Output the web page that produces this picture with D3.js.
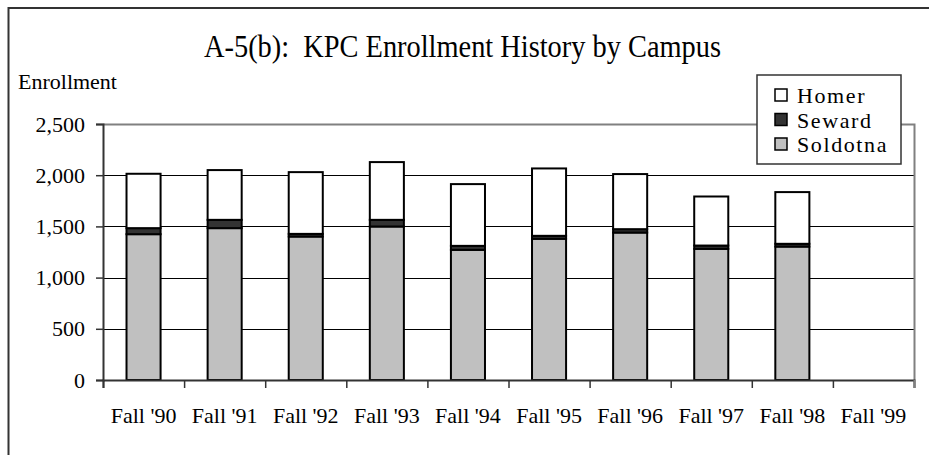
<!DOCTYPE html>
<html>
<head>
<meta charset="utf-8">
<script src="https://cdn.jsdelivr.net/npm/d3@7"></script>
<style>
  body { margin: 0; background: #fff; }
  text { font-family: "Liberation Serif", "DejaVu Serif", serif; fill: #000; }
</style>
</head>
<body>
<div id="chart"></div>
<script>
var canvas_width = 929,
    canvas_height = 455;

// data
var terms = ["Fall '90", "Fall '91", "Fall '92", "Fall '93", "Fall '94", "Fall '95", "Fall '96", "Fall '97", "Fall '98", "Fall '99"];
var soldotna = [1424, 1483, 1401, 1499, 1271, 1379, 1440, 1281, 1303, 0];
var seward = [59, 81, 26, 65, 39, 29, 33, 32, 27, 0];
var homer = [531, 486, 603, 564, 603, 658, 538, 479, 505, 0];
var yTicks = [0, 500, 1000, 1500, 2000, 2500];
var campuses = ["Soldotna", "Seward", "Homer"];
var legendKeys = ["Homer", "Seward", "Soldotna"];

var colors = { Homer: "#ffffff", Seward: "#333333", Soldotna: "#c0c0c0" };

var margin = { top: 124, right: 15, bottom: 75, left: 103 };
var width = canvas_width - margin.left - margin.right;
var height = 380 - margin.top;

var svg = d3.select("#chart")
    .append("svg")
    .attr("width", canvas_width)
    .attr("height", canvas_height);

// outer chart frame (only left and top edges fall inside the picture)
svg.append("rect")
    .attr("x", 8.5)
    .attr("y", 8)
    .attr("width", 960)
    .attr("height", 480)
    .attr("fill", "none")
    .attr("stroke", "#333")
    .attr("stroke-width", 2);

var rows = terms.map(function (t, i) {
    return { term: t, Soldotna: soldotna[i], Seward: seward[i], Homer: homer[i] };
});

var xScale = d3.scaleBand()
    .domain(terms)
    .range([0, width])
    .paddingInner(0.58)
    .paddingOuter(0.29);

var slot = d3.scaleLinear()
    .domain([0, terms.length])
    .range([0, width]);

var yScale = d3.scaleLinear()
    .domain([0, 2500])
    .range([height, 0]);

var g = svg.append("g")
    .attr("transform", "translate(" + margin.left + "," + margin.top + ")");

// gridlines
g.selectAll(".grid")
    .data(yTicks.filter(function (d) { return d > 0 && d < 2500; }))
    .enter()
    .append("line")
    .attr("x1", 0)
    .attr("x2", width)
    .attr("y1", function (d) { return Math.round(yScale(d)) + 0.5; })
    .attr("y2", function (d) { return Math.round(yScale(d)) + 0.5; })
    .attr("stroke", "#000")
    .attr("stroke-width", 1);

// plot area border top / right
g.append("path")
    .attr("d", "M0," + (yScale(2500) + 0.5) + "H" + (width + 0.5) + "V" + height)
    .attr("fill", "none")
    .attr("stroke", "#808080")
    .attr("stroke-width", 2);

// stacked bars
var stack = d3.stack().keys(campuses);
var series = stack(rows);

g.selectAll(".layer")
    .data(series)
    .enter()
    .append("g")
    .attr("fill", function (d) { return colors[d.key]; })
    .selectAll("rect")
    .data(function (d) { return d.filter(function (p) { return p[1] > p[0]; }); })
    .enter()
    .append("rect")
    .attr("x", function (d) { return xScale(d.data.term); })
    .attr("y", function (d) { return yScale(d[1]); })
    .attr("width", xScale.bandwidth())
    .attr("height", function (d) { return yScale(d[0]) - yScale(d[1]); })
    .attr("stroke", "#000")
    .attr("stroke-width", 2);

// Axes
var yAxis = g.append("g")
    .attr("class", "y-axis")
    .call(d3.axisLeft(yScale)
        .tickValues(yTicks)
        .tickFormat(d3.format(","))
        .tickSize(7)
        .tickPadding(11));

yAxis.select(".domain").attr("stroke", "#333").attr("stroke-width", 2);
yAxis.selectAll(".tick line").attr("stroke", "#333").attr("stroke-width", 1.5);
yAxis.selectAll("text").style("font-size", "22px");

var xAxis = g.append("g")
    .attr("class", "x-axis")
    .attr("transform", "translate(0," + height + ")")
    .call(d3.axisBottom(slot)
        .tickValues(d3.range(terms.length + 1))
        .tickFormat("")
        .tickSizeOuter(0)
        .tickSize(8));

xAxis.select(".domain").attr("stroke", "#333").attr("stroke-width", 2);
xAxis.selectAll(".tick line").attr("stroke", "#333").attr("stroke-width", 1.5);
xAxis.selectAll(".tick").filter(function (d) { return d === terms.length; })
    .select("line").attr("stroke", "#808080").attr("stroke-width", 2);

g.selectAll(".x-label")
    .data(terms)
    .enter()
    .append("text")
    .attr("x", function (d) { return xScale(d) + xScale.bandwidth() / 2; })
    .attr("y", height + 43)
    .attr("text-anchor", "middle")
    .style("font-size", "22px")
    .text(function (d) { return d; });

// Labels
svg.append("text")
    .attr("x", 204)
    .attr("y", 57)
    .attr("textLength", 517)
    .attr("lengthAdjust", "spacingAndGlyphs")
    .style("font-size", "32px")
    .style("white-space", "pre")
    .text("A-5(b):  KPC Enrollment History by Campus");

svg.append("text")
    .attr("x", 18)
    .attr("y", 89)
    .style("font-size", "22px")
    .text("Enrollment");

// legend
var legend = svg.append("g")
    .attr("transform", "translate(757,75)");

legend.append("rect")
    .attr("width", 144)
    .attr("height", 89)
    .attr("fill", "#fff")
    .attr("stroke", "#333")
    .attr("stroke-width", 1.5);

legend.selectAll(".legend-box")
    .data(legendKeys)
    .enter()
    .append("rect")
    .attr("x", 18)
    .attr("y", function (d, i) { return 14 + i * 24.5; })
    .attr("width", 12)
    .attr("height", 12)
    .attr("fill", function (d) { return colors[d]; })
    .attr("stroke", "#000")
    .attr("stroke-width", 1.5);

legend.selectAll(".legend-label")
    .data(legendKeys)
    .enter()
    .append("text")
    .attr("x", 40)
    .attr("y", function (d, i) { return 28 + i * 24.5; })
    .style("font-size", "22px")
    .style("letter-spacing", "1.6px")
    .text(function (d) { return d; });
</script>
</body>
</html>
